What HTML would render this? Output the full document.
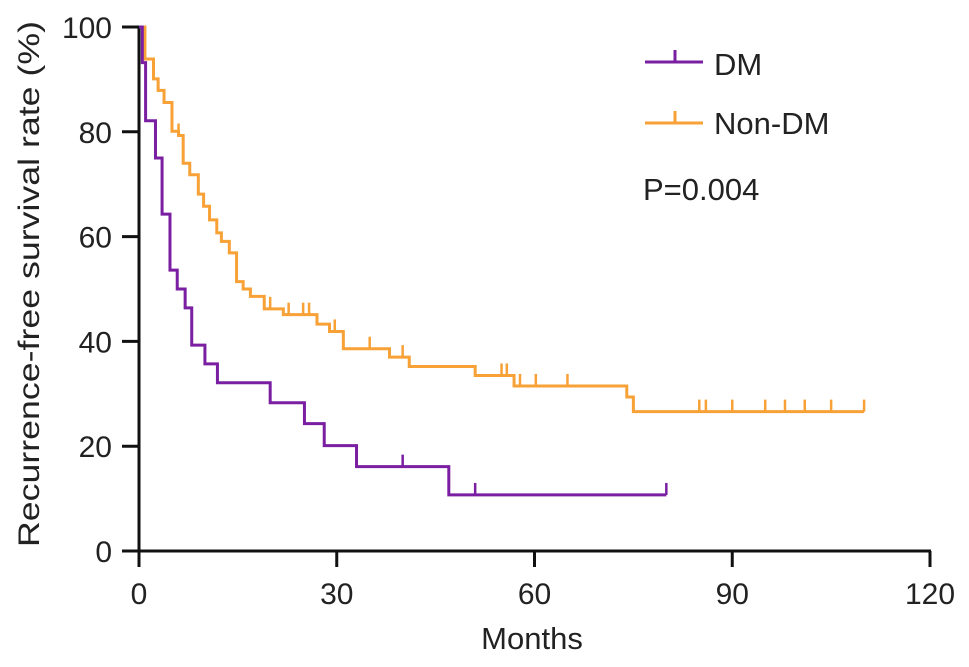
<!DOCTYPE html>
<html><head><meta charset="utf-8"><style>
body{margin:0;background:#fff;}
svg{display:block;font-family:"Liberation Sans",Arial,sans-serif;}
</style></head><body>
<svg id="chart" width="969" height="667" viewBox="0 0 969 667">
<g id="axes"></g>
<g id="curves"></g>
<g>
  <g>
    <line x1="645" y1="62" x2="703" y2="62" stroke="#7a1fa2" stroke-width="3"/>
    <line x1="675" y1="50" x2="675" y2="62" stroke="#7a1fa2" stroke-width="3"/>
    <text x="714" y="75" font-size="31" fill="#222">DM</text>
  </g>
  <g>
    <line x1="645" y1="123" x2="703" y2="123" stroke="#f7a136" stroke-width="3"/>
    <line x1="675" y1="111" x2="675" y2="123" stroke="#f7a136" stroke-width="3"/>
    <text x="714" y="134" font-size="31" fill="#222">Non-DM</text>
  </g>
  <text x="643" y="200" font-size="31" fill="#222">P=0.004</text>
</g>
<text x="532" y="649" font-size="31" text-anchor="middle" fill="#222">Months</text>
<text transform="translate(39,284) rotate(-90)" font-size="30" text-anchor="middle" textLength="526" lengthAdjust="spacingAndGlyphs" fill="#222">Recurrence-free survival rate (%)</text>
</svg>
<script>
const xTicks = [0, 30, 60, 90, 120];
const yTicks = [0, 20, 40, 60, 80, 100];
const dmTimes = [0.5, 1, 2.5, 3.5, 4.7, 5.8, 7, 8, 10, 11.9, 19.9, 25.1, 28.1, 33, 47];
const dmValues = [93.2, 82.1, 75, 64.3, 53.6, 50, 46.4, 39.3, 35.7, 32.1, 28.3, 24.3, 20.1, 16.1, 10.7];
const dmCensor = [40, 51, 80];
const dmEnd = 80;
const nonTimes = [0.9, 2.2, 2.9, 3.8, 5, 6, 6.7, 7.7, 9, 9.8, 10.7, 11.8, 12.5, 13.7, 14.8, 15.8, 16.9, 19, 21.9, 27, 28.9, 31, 38, 41, 51, 56.9, 74, 75];
const nonValues = [93.9, 90.1, 87.9, 85.6, 80.1, 79.3, 74, 71.8, 68.1, 65.8, 63.2, 60.7, 59.1, 56.9, 51.4, 50, 48.6, 46.2, 45.1, 43.3, 41.9, 38.6, 37, 35.2, 33.5, 31.5, 29.4, 26.6];
const nonCensor = [6, 19.9, 22.7, 24.9, 25.8, 29.7, 35, 40, 55, 55.8, 57.8, 60.2, 65, 85, 86, 90, 95, 98, 101, 105, 110];
const nonEnd = 110;

const X0 = 139, X1 = 930, Y0 = 551, Y1 = 27;
const xs = v => X0 + (v / 120) * (X1 - X0);
const ys = v => Y0 - (v / 100) * (Y0 - Y1);
const NS = 'http://www.w3.org/2000/svg';
function mk(tag, attrs, parent) {
  const e = document.createElementNS(NS, tag);
  for (const k in attrs) e.setAttribute(k, attrs[k]);
  parent.appendChild(e);
  return e;
}
const axes = document.getElementById('axes');
const curves = document.getElementById('curves');
const ya = mk('line', {x1: X0, y1: Y1 - 1, x2: X0, y2: Y0 + 1.5, stroke: '#111', 'stroke-width': 3}, axes);


const xa = mk('line', {x1: X0 - 1.5, y1: Y0, x2: X1 + 1, y2: Y0, stroke: '#111', 'stroke-width': 3}, axes);


yTicks.forEach(t => {
  const l = mk('line', {x1: X0 - 17, y1: ys(t), x2: X0, y2: ys(t), stroke: '#111', 'stroke-width': 3}, axes);
  
  
  const tx = mk('text', {x: X0 - 27, y: ys(t) + 11, 'font-size': 30, 'text-anchor': 'end', fill: '#222'}, axes);
  tx.textContent = t;
  
  
});
xTicks.forEach(t => {
  const l = mk('line', {x1: xs(t), y1: Y0, x2: xs(t), y2: Y0 + 16, stroke: '#111', 'stroke-width': 3}, axes);
  
  
  const tx = mk('text', {x: xs(t), y: Y0 + 53, 'font-size': 30, 'text-anchor': 'middle', fill: '#222'}, axes);
  tx.textContent = t;
  
  
});
function valAt(times, vals, t) {
  let v = 100;
  for (let i = 0; i < times.length; i++) if (times[i] <= t) v = vals[i];
  return v;
}
function drawCurve(times, vals, censor, end, color, name) {
  let d = 'M' + xs(0) + ',' + ys(100);
  times.forEach((t, i) => {
    d += ' H' + xs(t) + ' V' + ys(vals[i]);
  });
  d += ' H' + xs(end);
  const p = mk('path', {d: d, fill: 'none', stroke: color, 'stroke-width': 3}, curves);
  
  
  censor.forEach(c => {
    const v = valAt(times, vals, c);
    const l = mk('line', {x1: xs(c), y1: ys(v) - 12, x2: xs(c), y2: ys(v), stroke: color, 'stroke-width': 2.5}, curves);
    
    
  });
}
drawCurve(nonTimes, nonValues, nonCensor, nonEnd, '#f7a136', 'non-dm');
drawCurve(dmTimes, dmValues, dmCensor, dmEnd, '#7a1fa2', 'dm');
</script>
</body></html>
